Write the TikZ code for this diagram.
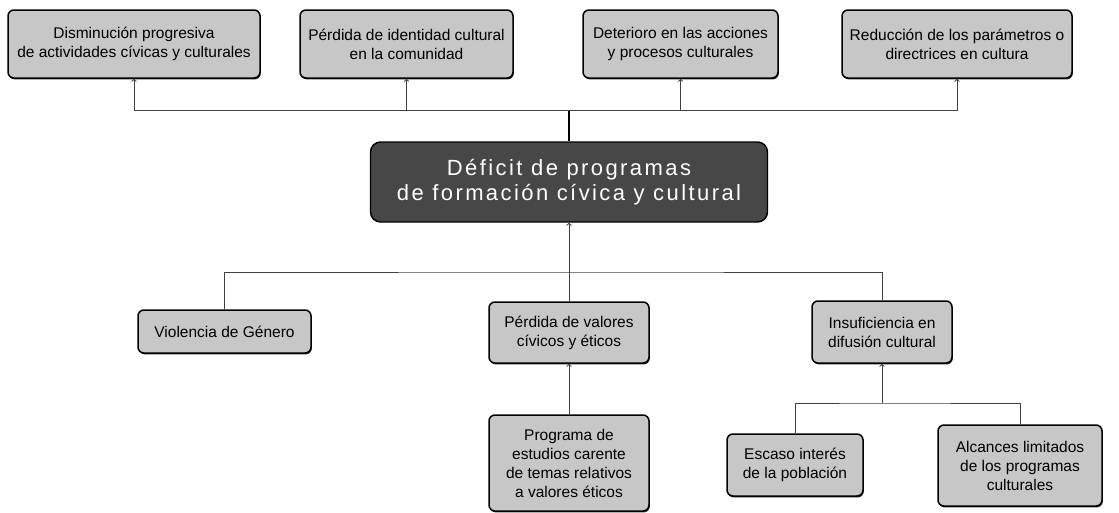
\documentclass[tikz,border=0pt]{standalone}
\usepackage{fontspec}
\setmainfont{Liberation Sans}
\usetikzlibrary{shadows}

\begin{document}
\begin{tikzpicture}[x=1pt,y=-1pt]
  \def\fs{\fontsize{15.5}{19}\selectfont}

\tikzstyle{caja}=[draw=black,line width=1.5pt,rounded corners=6pt,fill=black!22,align=center,inner sep=2pt,font=\fs,
  drop shadow={shadow xshift=0.8pt,shadow yshift=-1.4pt,fill=black,opacity=0.85}]
\tikzstyle{central}=[draw=black,line width=1.4pt,rounded corners=10pt,fill=black!72,text=white,align=center,inner sep=2pt,
  font=\fontsize{22}{25}\selectfont\addfontfeature{LetterSpace=11}]
\tikzstyle{linea}=[line width=1pt,black!75]
\useasboundingbox (0,0) rectangle (1119,512);
% problema central
\node[central,minimum width=397pt,minimum height=80pt] (P0) at (569,182) {D\'eficit de programas\\de formaci\'on c\'ivica y cultural};
\coordinate (B1) at (569,110);
\coordinate (B2) at (569,272);
\coordinate (B3) at (882,403);
\draw[line width=1.4pt] (P0.north) -- (B1);
% efectos
\node[caja,minimum width=252pt,minimum height=68pt] (E1) at (134,44) {Disminuci\'on progresiva\\de actividades c\'ivicas y culturales};
\draw[linea,->] (B1) -| (E1.south);
\node[caja,minimum width=213pt,minimum height=68pt] (E2) at (406.5,44) {P\'erdida de identidad cultural\\en la comunidad};
\draw[linea,->] (B1) -| (E2.south);
\node[caja,minimum width=195pt,minimum height=68pt] (E3) at (680.5,44) {Deterioro en las acciones\\y procesos culturales};
\draw[linea,->] (B1) -| (E3.south);
\node[caja,minimum width=230pt,minimum height=68pt] (E4) at (957,44) {Reducci\'on de los par\'ametros o\\directrices en cultura};
\draw[linea,->] (B1) -| (E4.south);
% causas
\node[caja,minimum width=173pt,minimum height=43pt] (C1) at (224.5,331.5) {Violencia de G\'enero};
\node[caja,minimum width=160pt,minimum height=61pt] (C2) at (569,332.5) {P\'erdida de valores\\c\'ivicos y \'eticos};
\draw[linea,->] (C2.north) -- (P0.south);
\node[caja,minimum width=140pt,minimum height=62pt] (C3) at (882,332) {Insuficiencia en\\difusi\'on cultural};
\draw[linea] (C1.north) |- (B2) -| (C3.north);
\node[caja,minimum width=160pt,minimum height=96pt] (C4) at (569,463) {Programa de\\estudios carente\\de temas relativos\\a valores \'eticos};
\draw[linea,->] (C4.north) -- (C2.south);
\node[caja,minimum width=136pt,minimum height=62pt] (C5) at (795,465) {Escaso inter\'es\\de la poblaci\'on};
\node[caja,minimum width=164pt,minimum height=81pt] (C6) at (1020,465.5) {Alcances limitados\\de los programas\\culturales};
\draw[linea] (C5.north) |- (B3) -| (C6.north);
\draw[linea,->] (B3) -- (C3.south);
\end{tikzpicture}
\end{document}
